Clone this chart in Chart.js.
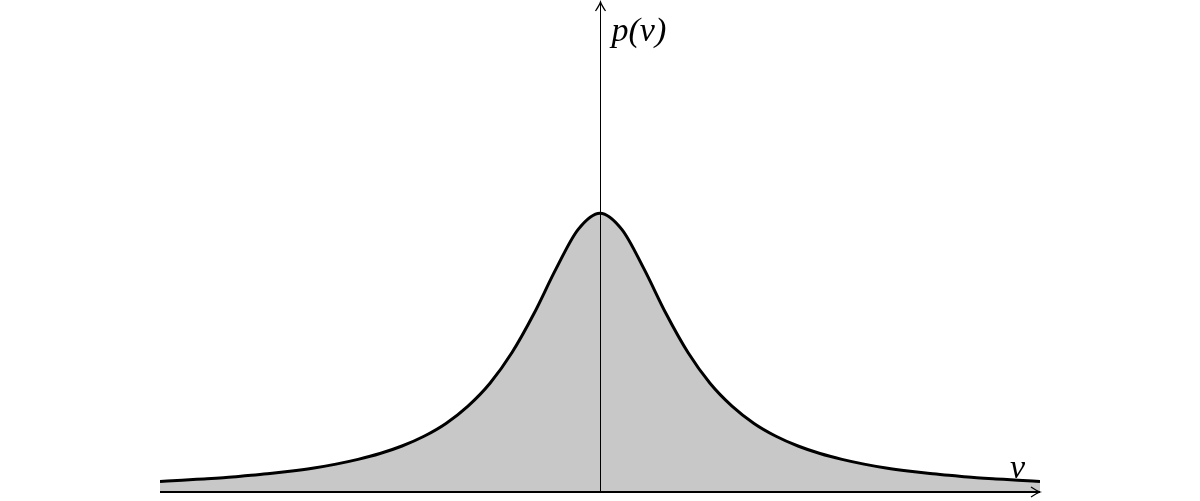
<!DOCTYPE html>
<html>
<head>
<meta charset="utf-8">
<script src="https://cdn.jsdelivr.net/npm/chart.js@4/dist/chart.umd.min.js"></script>
<style>
  html, body { margin: 0; padding: 0; background: #fff; }
  #wrap { width: 1200px; height: 501px; }
</style>
</head>
<body>
<div id="wrap"><canvas id="densityChart" width="1200" height="501"></canvas></div>
<script>
// Curve samples (v, p(v)), peak scaled to 1
const vValues = [-5, -4.75, -4.5, -4.25, -4, -3.75, -3.5, -3.25, -3, -2.75, -2.5, -2.25, -2,
                 -1.75, -1.5, -1.25, -1, -0.75, -0.5, -0.25, 0,
                 0.25, 0.5, 0.75, 1, 1.25, 1.5, 1.75,
                 2, 2.25, 2.5, 2.75, 3, 3.25, 3.5, 3.75, 4, 4.25, 4.5, 4.75, 5];
const pValues = [0.038, 0.042, 0.047, 0.052, 0.059, 0.066, 0.075, 0.086, 0.100, 0.117, 0.138, 0.165, 0.200,
                 0.246, 0.308, 0.390, 0.500, 0.640, 0.800, 0.941, 1.000,
                 0.941, 0.800, 0.640, 0.500, 0.390, 0.308, 0.246,
                 0.200, 0.165, 0.138, 0.117, 0.100, 0.086, 0.075, 0.066, 0.059, 0.052, 0.047, 0.042, 0.038];
const xLabel = 'v';
const yLabel = 'p(v)';

const points = vValues.map((v, i) => ({ x: v, y: pValues[i] }));

// arrow head, LaTeX style
function arrowHead(ctx, x, y, dir) {
  ctx.save();
  ctx.translate(x, y);
  ctx.rotate(dir);
  ctx.beginPath();
  ctx.moveTo(-9, -5);
  ctx.quadraticCurveTo(-3, -1, 0, 0);
  ctx.quadraticCurveTo(-3, 1, -9, 5);
  ctx.lineWidth = 1.3;
  ctx.strokeStyle = '#000';
  ctx.stroke();
  ctx.restore();
}

const axesPlugin = {
  id: 'axesArrows',
  afterDatasetsDraw(chart) {
    const ctx = chart.ctx;
    const xs = chart.scales.x, ys = chart.scales.y;
    const x0 = Math.round(xs.getPixelForValue(0)) + 0.5;
    const y0 = ys.getPixelForValue(0);
    const left = xs.left, right = xs.right, top = ys.top;

    ctx.save();
    // x axis
    ctx.beginPath();
    ctx.moveTo(left, y0);
    ctx.lineTo(right, y0);
    ctx.lineWidth = 2;
    ctx.strokeStyle = '#000';
    ctx.stroke();
    arrowHead(ctx, right, y0, 0);

    // y axis
    ctx.beginPath();
    ctx.moveTo(x0, y0);
    ctx.lineTo(x0, top - 2);
    ctx.lineWidth = 1;
    ctx.strokeStyle = '#000';
    ctx.stroke();
    arrowHead(ctx, x0, top - 2, -Math.PI / 2);

    // labels
    ctx.fillStyle = '#000';
    ctx.font = 'italic 34px "Liberation Serif", "DejaVu Serif", serif';
    ctx.textBaseline = 'alphabetic';
    ctx.textAlign = 'left';
    ctx.fillText(yLabel, x0 + 11, 41);
    ctx.fillText(xLabel, right - 30, y0 - 14);
    ctx.restore();
  }
};

const ctx = document.getElementById('densityChart').getContext('2d');
const densityChart = new Chart(ctx, {
  type: 'line',
  data: {
    datasets: [{
      data: points,
      borderColor: '#000',
      borderWidth: 3,
      backgroundColor: '#c8c8c8',
      fill: 'origin',
      pointRadius: 0,
      cubicInterpolationMode: 'monotone'
    }]
  },
  options: {
    responsive: false,
    animation: false,
    layout: { padding: { left: 160, right: 160, top: 4, bottom: 9 } },
    plugins: {
      legend: { display: false },
      tooltip: { enabled: false }
    },
    scales: {
      x: { type: 'linear', min: -5, max: 5, display: false },
      y: { min: 0, max: 1.75, display: false }
    }
  },
  plugins: [axesPlugin]
});
</script>
</body>
</html>
